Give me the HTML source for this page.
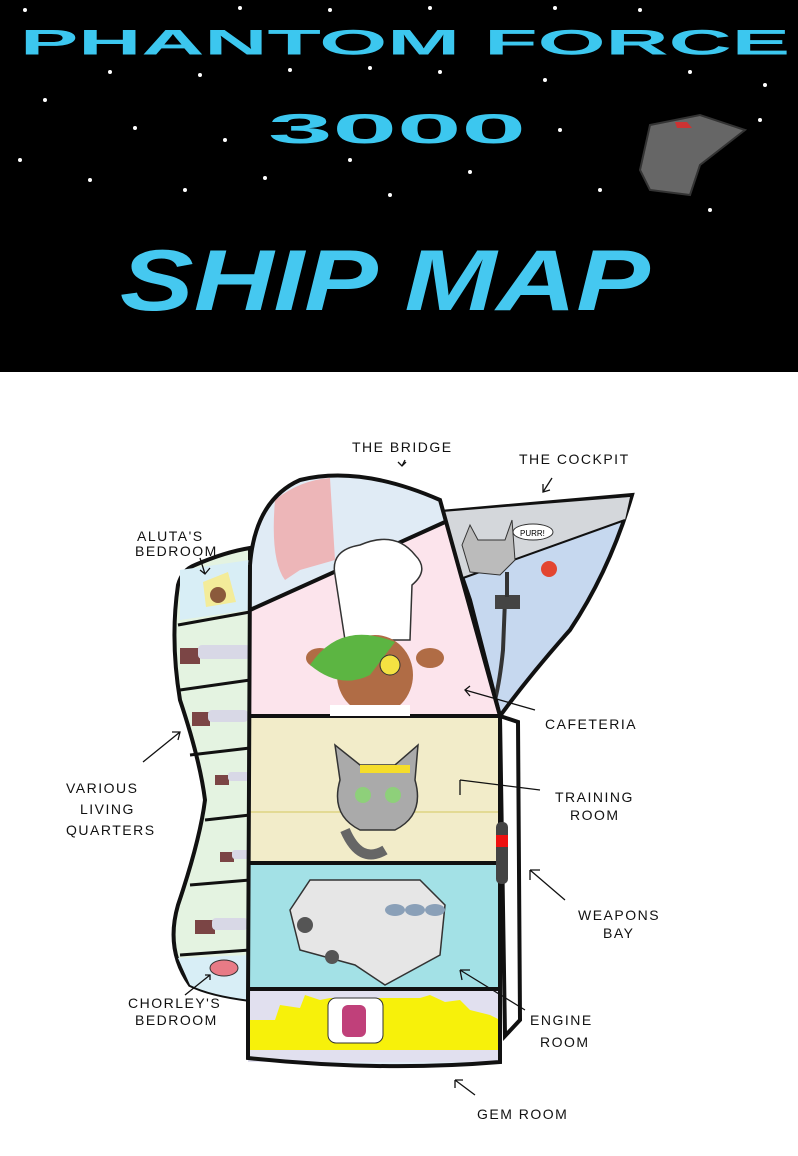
<!DOCTYPE html>
<html><head><meta charset="utf-8"><style>
html,body{margin:0;padding:0;background:#fff}
svg{display:block}
.l{font-family:"Liberation Sans",sans-serif;font-size:14px;letter-spacing:1.5px;fill:#111}
</style></head><body>
<svg width="798" height="1156" viewBox="0 0 798 1156" xmlns="http://www.w3.org/2000/svg">
<rect x="0" y="0" width="798" height="372" fill="#000"/>
<g fill="#fff">
<circle cx="25" cy="10" r="2"/><circle cx="240" cy="8" r="2"/><circle cx="330" cy="10" r="2"/><circle cx="430" cy="8" r="2"/><circle cx="555" cy="8" r="2"/><circle cx="640" cy="10" r="2"/>
<circle cx="110" cy="72" r="2"/><circle cx="200" cy="75" r="2"/><circle cx="290" cy="70" r="2"/><circle cx="370" cy="68" r="2"/><circle cx="440" cy="72" r="2"/><circle cx="545" cy="80" r="2"/><circle cx="690" cy="72" r="2"/><circle cx="765" cy="85" r="2"/>
<circle cx="45" cy="100" r="2"/><circle cx="135" cy="128" r="2"/><circle cx="225" cy="140" r="2"/><circle cx="350" cy="160" r="2"/><circle cx="560" cy="130" r="2"/><circle cx="600" cy="190" r="2"/><circle cx="760" cy="120" r="2"/>
<circle cx="20" cy="160" r="2"/><circle cx="90" cy="180" r="2"/><circle cx="185" cy="190" r="2"/><circle cx="265" cy="178" r="2"/><circle cx="470" cy="172" r="2"/><circle cx="390" cy="195" r="2"/><circle cx="710" cy="210" r="2"/>
</g>
<g font-family="Liberation Sans,sans-serif" font-weight="bold" fill="#3cc7ef">
<text x="20" y="56" font-size="44" textLength="770" lengthAdjust="spacingAndGlyphs" transform="scale(1,0.8) translate(0,12)">PHANTOM  FORCE</text>
<text x="268" y="145" font-size="52" textLength="258" lengthAdjust="spacingAndGlyphs" transform="scale(1,0.8) translate(0,34)">3000</text>
<text x="120" y="310" font-size="86" textLength="530" lengthAdjust="spacingAndGlyphs" font-style="italic" fill="#45c8f0">SHIP MAP</text>
</g>
<path d="M640 170 L650 125 L700 115 L745 130 L700 165 L690 195 L650 190 Z" fill="#666" stroke="#333" stroke-width="2"/>
<path d="M675 122 l12 0 l5 6 l-15 0z" fill="#c33"/>

<!-- left quarters -->
<path d="M195 565 Q225 552 250 548 L250 1000 Q210 995 190 985 Q165 950 178 905 Q200 840 205 800 Q200 760 180 700 Q170 640 178 585 Q182 570 195 565 Z" fill="#e4f3e1" stroke="#111" stroke-width="4"/>
<path d="M180 570 L250 560 L250 610 L180 620 Z" fill="#d8eef6"/>
<path d="M178 958 L250 955 L250 1000 Q210 995 190 985 Z" fill="#d8eef6"/>
<g stroke="#111" stroke-width="3" fill="none">
<path d="M178 625 L250 612"/><path d="M180 690 L250 680"/><path d="M190 755 L250 748"/><path d="M205 820 L250 815"/><path d="M190 885 L250 880"/><path d="M180 955 L250 950"/>
</g>
<path d="M203 582 l25 -10 l8 30 l-30 5 z" fill="#f3ec9a"/><circle cx="218" cy="595" r="8" fill="#8b5a3c"/>
<g fill="#7b4545"><rect x="180" y="648" width="20" height="16"/><rect x="192" y="712" width="18" height="14"/><rect x="215" y="775" width="14" height="10"/><rect x="220" y="852" width="14" height="10"/><rect x="195" y="920" width="20" height="14"/></g>
<g fill="#d8d8e6"><rect x="198" y="645" width="52" height="14" rx="4"/><rect x="208" y="710" width="40" height="12" rx="4"/><rect x="228" y="772" width="22" height="9" rx="3"/><rect x="232" y="850" width="20" height="9" rx="3"/><rect x="212" y="918" width="36" height="12" rx="4"/></g>
<ellipse cx="224" cy="968" rx="14" ry="8" fill="#e87b86" stroke="#333"/>

<!-- cockpit -->
<path d="M440 512 L632 495 Q610 570 570 630 Q530 675 500 716 L470 600 Z" fill="#c6d8ef" stroke="#111" stroke-width="4"/>
<path d="M442 512 L630 497 L625 520 L463 578 Z" fill="#d4d7db"/>
<path d="M463 578 L625 520" stroke="#111" stroke-width="2"/>
<circle cx="549" cy="569" r="8" fill="#e34530"/>
<path d="M505 600 L503 650 Q500 680 495 700" stroke="#333" stroke-width="4" fill="none"/>
<rect x="495" y="595" width="25" height="14" fill="#444"/><rect x="505" y="572" width="4" height="25" fill="#333"/>
<path d="M462 545 L470 525 L478 540 L505 540 L512 520 L515 560 L500 575 L470 572 Z" fill="#bbb" stroke="#333"/>
<ellipse cx="533" cy="532" rx="20" ry="8" fill="#fff" stroke="#333"/><text x="520" y="536" font-size="8" font-family="Liberation Sans,sans-serif">PURR!</text>

<!-- main body -->
<path d="M250 565 Q255 500 300 480 Q360 465 440 500 L500 716 L500 1062 Q380 1072 248 1058 L248 1000 Z" fill="#e0ebf5"/>
<path d="M250 610 L445 522 L500 716 L250 716 Z" fill="#fce4ec"/>
<path d="M275 500 Q300 480 330 478 L335 560 L300 570 L285 580 Q270 560 275 500Z" fill="#edb6b8"/>
<rect x="250" y="716" width="250" height="147" fill="#f2ecc9"/>
<line x1="250" y1="812" x2="500" y2="812" stroke="#d4c860" stroke-width="1"/>
<rect x="250" y="863" width="250" height="126" fill="#a3e1e6"/>
<rect x="248" y="989" width="252" height="73" fill="#e1e0ef"/>
<path d="M250 1020 L275 1020 L280 1005 L300 1008 L305 995 L320 1000 L330 998 L420 998 L430 995 L445 1002 L460 1000 L470 1010 L490 1015 L500 1020 L500 1050 L250 1050 Z" fill="#f7f10a"/>
<rect x="328" y="998" width="55" height="45" rx="8" fill="#fff" stroke="#333"/>
<rect x="342" y="1005" width="24" height="32" rx="6" fill="#c0407a"/>
<g stroke="#111" stroke-width="4" fill="none">
<path d="M250 565 Q255 500 300 480 Q360 465 440 500 L500 716 L500 1062 Q380 1072 248 1058 L248 1000 L250 565"/>
<path d="M250 610 L445 522"/>
<path d="M250 716 L500 716"/><path d="M250 863 L500 863"/><path d="M248 989 L500 989"/>
</g>
<!-- chef -->
<path d="M335 575 Q330 550 360 545 Q395 530 415 555 Q430 570 412 585 L410 640 L345 640 Z" fill="#fff" stroke="#333" stroke-width="1.5"/>
<ellipse cx="375" cy="675" rx="38" ry="40" fill="#b06c45"/>
<ellipse cx="320" cy="658" rx="14" ry="10" fill="#b06c45"/><ellipse cx="430" cy="658" rx="14" ry="10" fill="#b06c45"/>
<path d="M310 665 Q340 620 395 642 L370 675 Q340 690 310 665Z" fill="#5cb542"/>
<circle cx="390" cy="665" r="10" fill="#f4e242" stroke="#333"/>
<rect x="330" y="705" width="80" height="11" fill="#fff"/>
<!-- cat training -->
<path d="M340 780 L335 745 L360 765 L395 765 L418 745 L415 780 Q425 815 395 830 L360 830 Q330 815 340 780Z" fill="#aaa" stroke="#333" stroke-width="1.5"/>
<rect x="360" y="765" width="50" height="8" fill="#f5dd2a"/>
<circle cx="363" cy="795" r="8" fill="#8ed07a"/><circle cx="393" cy="795" r="8" fill="#8ed07a"/>
<path d="M345 830 Q360 865 385 850" stroke="#666" stroke-width="10" fill="none"/>
<!-- engine -->
<path d="M290 910 L310 880 L420 880 L445 905 L440 955 L385 985 L355 965 L300 950 Z" fill="#e6e6e6" stroke="#333" stroke-width="1.5"/>
<g fill="#8aa0b8"><ellipse cx="395" cy="910" rx="10" ry="6"/><ellipse cx="415" cy="910" rx="10" ry="6"/><ellipse cx="435" cy="910" rx="10" ry="6"/></g>
<circle cx="305" cy="925" r="8" fill="#555"/><circle cx="332" cy="957" r="7" fill="#555"/>
<!-- weapons bay -->
<path d="M500 716 L518 722 L520 1020 L505 1036 Z" fill="#fff" stroke="#111" stroke-width="4"/>
<rect x="496" y="822" width="12" height="62" rx="5" fill="#444"/><rect x="496" y="835" width="12" height="12" fill="#e11"/>

<!-- arrows -->
<g stroke="#111" stroke-width="1.3" fill="none">
<path d="M405 460 L402 466 M398 462 L402 466 L406 462"/>
<path d="M552 478 L543 492 M543 484 L543 492 L550 490"/>
<path d="M200 558 L205 574 M200 570 L205 574 L210 568"/>
<path d="M143 762 L180 732 M172 732 L180 732 L178 740"/>
<path d="M535 710 L465 690 M470 686 L465 690 L470 696"/>
<path d="M540 790 L460 780 M460 780 L460 795"/>
<path d="M565 900 L530 870 M530 870 L530 880 M530 870 L540 870"/>
<path d="M525 1010 L460 970 M460 970 L462 980 M460 970 L470 970"/>
<path d="M185 995 L210 975 M205 975 L210 975 L210 980"/>
<path d="M475 1095 L455 1080 M455 1080 L455 1088 M455 1080 L463 1080"/>
</g>
<text class="l" x="352" y="452">THE BRIDGE</text>
<text class="l" x="519" y="464">THE COCKPIT</text>
<text class="l" x="137" y="541">ALUTA'S</text><text class="l" x="135" y="556">BEDROOM</text>
<text class="l" x="66" y="793">VARIOUS</text><text class="l" x="80" y="814">LIVING</text><text class="l" x="66" y="835">QUARTERS</text>
<text class="l" x="545" y="729">CAFETERIA</text>
<text class="l" x="555" y="802">TRAINING</text><text class="l" x="570" y="820">ROOM</text>
<text class="l" x="578" y="920">WEAPONS</text><text class="l" x="603" y="938">BAY</text>
<text class="l" x="530" y="1025" font-size="17">ENGINE</text><text class="l" x="540" y="1047" font-size="17">ROOM</text>
<text class="l" x="128" y="1008" font-size="12">CHORLEY'S</text><text class="l" x="135" y="1025" font-size="12">BEDROOM</text>
<text class="l" x="477" y="1119">GEM ROOM</text>
</svg>
</body></html>
